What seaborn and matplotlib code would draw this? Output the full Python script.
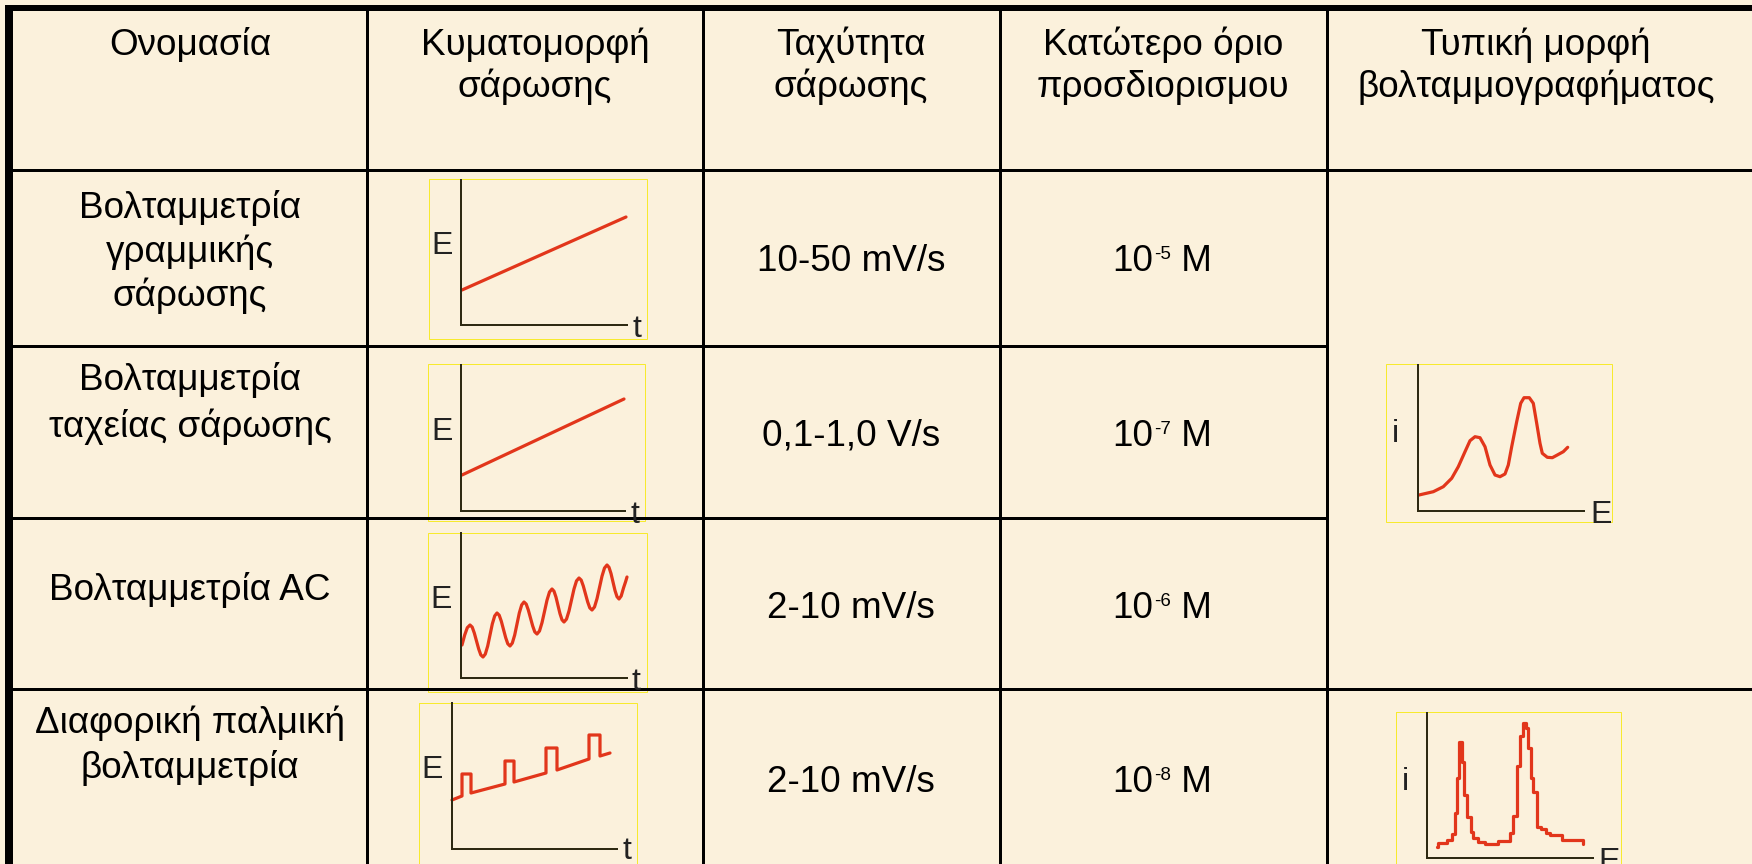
import matplotlib
matplotlib.use('Agg')
import matplotlib.pyplot as plt
import seaborn as sns
from matplotlib.patches import Rectangle

sns.set_theme(style='white')
plt.rcParams['font.family'] = ['Liberation Sans', 'DejaVu Sans']

# ---- table text ----
headers = [["Ονομασία"], ["Κυματομορφή", "σάρωσης"], ["Ταχύτητα", "σάρωσης"],
           ["Κατώτερο όριο", "προσδιορισμου"], ["Τυπική μορφή", "βολταμμογραφήματος"]]
names = [["Βολταμμετρία", "γραμμικής", "σάρωσης"],
         ["Βολταμμετρία", "ταχείας σάρωσης"],
         ["Βολταμμετρία AC"],
         ["Διαφορική παλμική", "βολταμμετρία"]]
speeds = ["10-50 mV/s", "0,1-1,0 V/s", "2-10 mV/s", "2-10 mV/s"]
limit_base = "10"
limit_exp = ["-5", "-7", "-6", "-8"]
limit_unit = " M"

# ---- sweep waveforms (t, E in arbitrary units) ----
lsv_t = [1, 165]
lsv_E = [35, 108]
fast_t = [1, 163]
fast_E = [36, 112]
ac_t = [1, 3.7, 6.3, 9, 11.2, 13.3, 15.5, 17.7, 19.8, 22, 24.3, 26.7, 29, 31.3, 33.7, 36,
        38.2, 40.3, 42.5, 44.7, 46.8, 49, 51.3, 53.7, 56, 58.3, 60.7, 63, 65.2, 67.3, 69.5,
        71.7, 73.8, 76, 78.5, 81, 83.5, 86, 88.5, 91, 93, 95, 97, 99, 101, 103, 105.5, 108,
        110.5, 113, 115.5, 118, 120.2, 122.3, 124.5, 126.7, 128.8, 131, 133.5, 136, 138.5,
        141, 143.5, 146, 148, 150, 152, 154, 156, 158, 160.2, 162.5, 164.5, 166]
ac_E = [33, 43, 50.3, 53, 50.9, 45, 37, 29, 23.1, 21, 23.9, 32, 43, 54, 62.1, 65,
        62.8, 56.8, 48.5, 40.3, 34.2, 32, 34.9, 43, 54, 65, 73.1, 76, 73.9, 68, 60,
        52, 46.1, 44, 47, 55.3, 66.5, 77.8, 86, 89, 86.8, 80.8, 72.5, 64.3, 58.2, 56, 58.9, 67,
        78, 89, 97.1, 100, 97.9, 92, 84, 76, 70.1, 68, 71, 79.3, 90.5,
        101.8, 110, 113, 110.7, 104.5, 96, 87.5, 81.3, 79, 82, 90, 96, 101]
dpv_t = [0, 10, 10, 19, 19, 53, 53, 62, 62, 94, 94, 105, 105, 137, 137, 148, 148, 158]
dpv_E = [49, 53, 75, 75, 56, 65, 88, 88, 67, 76, 101, 101, 79, 90, 114, 114, 93, 96]

# ---- voltammograms (E, i in arbitrary units) ----
lsv_v_E = [1, 15.3, 25.3, 33.7, 40.3, 47, 52, 57, 62, 67, 72, 77, 82, 87, 90.3, 93.7, 98.7,
           102.7, 106, 111.3, 115.3, 118.7, 122, 124.3, 129.3, 134.3, 139.3, 145.3, 149.7]
lsv_v_i = [16, 19.3, 24.3, 32.7, 44.3, 59.3, 70.3, 74.3, 73.3, 64.3, 46, 36, 34.3, 37, 46, 64.3,
           89.3, 107.7, 113.3, 113.3, 107.7, 87.7, 67.7, 57.7, 53.7, 53.3, 56, 59.3, 63.7]
dpv_v_E = [10, 11, 20, 25, 28, 30, 32, 35, 37, 40, 44, 46, 51, 58, 71, 83, 86, 90, 93, 96,
           99, 101, 104, 106, 110, 114, 119, 123, 135, 156, 156]
dpv_v_i = [11, 15, 18, 24, 45, 80, 116, 96, 63, 41, 26, 20, 16, 14, 17, 25, 42, 92, 122, 135,
           130, 110, 80, 66, 31, 29, 25, 23, 18, 18, 14]

# ---- layout (pixels) ----
W, H = 1752, 864
BG = '#FBF1DC'
RED = '#E2361B'
AXC = '#2e2a12'
FS = 26.6
col_x = [367, 703, 1000, 1327]
col_center = [190, 535, 851, 1163, 1536]
head_base = [55, 97]
name_base = [[218, 262, 306], [390, 437], [600], [733, 778]]
val_base = [271, 446, 618, 792]

fig = plt.figure(figsize=(W / 100, H / 100), dpi=100)
fig.patch.set_facecolor(BG)
ax = fig.add_axes([0, 0, 1, 1])
ax.set_xlim(0, W)
ax.set_ylim(H, 0)
ax.axis('off')

px = 0.72  # points per pixel
# outer border
ax.plot([5, W], [8, 8], color='black', lw=6 * px, solid_capstyle='butt')
ax.plot([9, 9], [5, H], color='black', lw=8 * px, solid_capstyle='butt')
for x in col_x:
    ax.plot([x, x], [8, H], color='black', lw=3 * px)
ax.plot([9, W], [170, 170], color='black', lw=3 * px)
ax.plot([9, col_x[3]], [346, 346], color='black', lw=3 * px)
ax.plot([9, col_x[3]], [518, 518], color='black', lw=3 * px)
ax.plot([9, W], [689, 689], color='black', lw=3 * px)

for lines, cx in zip(headers, col_center):
    for s, yb in zip(lines, head_base):
        ax.text(cx, yb, s, ha='center', va='baseline', fontsize=FS, color='black')
for lines, bases in zip(names, name_base):
    for s, yb in zip(lines, bases):
        ax.text(col_center[0], yb, s, ha='center', va='baseline', fontsize=FS, color='black')
for s, yb in zip(speeds, val_base):
    ax.text(col_center[2], yb, s, ha='center', va='baseline', fontsize=FS, color='black')
for e, yb in zip(limit_exp, val_base):
    t1 = ax.text(1153, yb, limit_base, ha='right', va='baseline', fontsize=FS, color='black')
    t2 = ax.text(1154, yb - 12, e, ha='left', va='baseline', fontsize=13.5, color='black')
    ax.annotate(limit_unit, xy=(1, 0), xycoords=(t2, t1), ha='left', va='bottom',
                fontsize=FS, color='black')

# yellow frames of the small pictures
frames = [(429, 179, 647, 339), (428, 364, 645, 521), (428, 533, 647, 692),
          (419, 703, 637, 870), (1386, 364, 1612, 522), (1396, 712, 1621, 870)]
for x0, y0, x1, y1 in frames:
    ax.add_patch(Rectangle((x0, y0), x1 - x0, y1 - y0, fill=False, ec='#F7EA2E', lw=1.0 * px))

LFS = 23
labels = [('E', 442, 254), ('t', 637, 337), ('E', 442, 440), ('t', 635, 523),
          ('E', 441, 608), ('t', 636, 690), ('E', 432, 778), ('t', 627, 859),
          ('i', 1395, 442), ('E', 1601, 523), ('i', 1405, 790), ('E', 1609, 870)]
for s, x, y in labels:
    ax.text(x, y, s, ha='center', va='baseline', fontsize=LFS, color='#222222')


def mini(x0, y0, x1, y1):
    a = fig.add_axes([x0 / W, 1 - y0 / H, (x1 - x0) / W, (y0 - y1) / H])
    a.set_xlim(0, x1 - x0)
    a.set_ylim(0, y0 - y1)
    a.patch.set_alpha(0)
    for s in ['top', 'right']:
        a.spines[s].set_visible(False)
    for s in ['left', 'bottom']:
        a.spines[s].set_color(AXC)
        a.spines[s].set_linewidth(2 * px)
    a.set_xticks([])
    a.set_yticks([])
    return a


curve_kw = dict(color=RED, linewidth=3.2 * px, sort=False, estimator=None,
                solid_joinstyle='round', solid_capstyle='round', clip_on=False)

curves = [((461, 325, 627, 180), lsv_t, lsv_E, {}),
          ((461, 511, 625, 365), fast_t, fast_E, {}),
          ((461, 678, 627, 533), ac_t, ac_E, {}),
          ((452, 849, 617, 703), dpv_t, dpv_E, {}),
          ((1418, 511, 1584, 365), lsv_v_E, lsv_v_i, {}),
          ((1427, 858, 1593, 713), dpv_v_E, dpv_v_i, {'drawstyle': 'steps-post'})]
for box, xs, ys, extra in curves:
    a = mini(*box)
    sns.lineplot(x=xs, y=ys, ax=a, **curve_kw, **extra)
    a.set_xlabel('')
    a.set_ylabel('')

fig.savefig('out.png', dpi=100, facecolor=BG)
